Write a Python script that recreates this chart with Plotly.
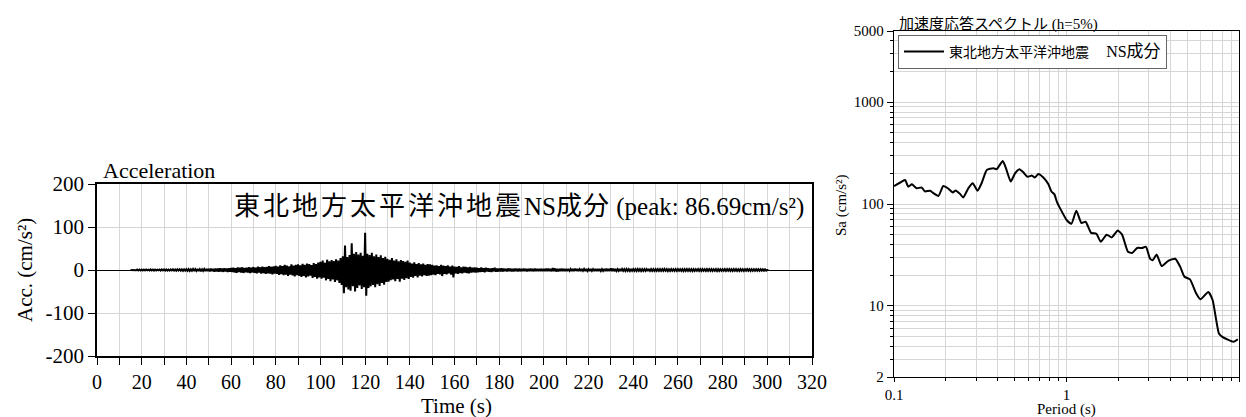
import math
import plotly.graph_objects as go

# ---------------- Acceleration time history (read per second: upper / lower swing) ----
T0 = 15  # first second of recorded motion
acc_up = [
    0, 0.5, 0.8, 1, 1,                                   # 15-19
    1, 1.2, 1, 0.8, 1.3, 1, 1.2, 0.9, 1.1, 1.4,           # 20-29
    1.2, 1.5, 1, 1.3, 1.6, 1.2, 1.5, 1.8, 1.4, 1.6,       # 30-39
    1.8, 2, 1.6, 2.2, 1.9, 2.4, 2, 1.7, 2.3, 2.6,         # 40-49
    2.8, 3.2, 2.6, 3.5, 3, 3.8, 3.2, 4, 3.4, 4.2,         # 50-59
    4.5, 5.2, 4.1, 5.8, 5, 6.2, 4.8, 5.5, 6.5, 5.3,       # 60-69
    6.8, 5.5, 7.5, 6.2, 8, 6.5, 7.2, 9, 7.5, 8.2,         # 70-79
    9.5, 8, 11, 9, 12, 10, 8.5, 13, 10.5, 12,             # 80-89
    13, 11, 14.5, 12, 15, 13.5, 11.5, 16, 14, 17,         # 90-99
    19, 22, 17, 24, 20, 23, 21, 25, 22, 28,               # 100-109
    32, 57, 30, 35, 62, 38, 42, 36, 40, 33,               # 110-119
    86.69, 38, 35, 40, 32, 36, 30, 34, 28, 31,            # 120-129
    26, 24, 28, 22, 25, 20, 23, 21, 19, 22,               # 130-139
    17, 15, 18, 14, 16, 13, 15, 12, 14, 13,               # 140-149
    12, 10, 11, 9, 12, 10, 9, 11, 8, 10,                  # 150-159
    8, 7, 9, 6, 8, 7, 6, 7, 5, 6,                         # 160-169
    5, 4, 6, 4, 5, 4, 3.5, 4, 5, 3,                       # 170-179
    3.5, 4, 3, 2.8, 3.5, 3, 2.5, 3.2, 2.8, 3,             # 180-189
    2.5, 3, 2.6, 2.2, 2.8, 2.4, 3, 2.5, 2.2, 2.7,         # 190-199
    2.4, 2.8, 3, 2.5, 4.5, 3.5, 2.6, 2.2, 2.8, 2.4,       # 200-209
    2.2, 2.6, 2.1, 2.4, 2.8, 2.3, 2, 2.5, 2.2, 2.4,       # 210-219
    2.1, 2.4, 2, 2.3, 2.6, 2.2, 2, 2.5, 3.2, 2.4,         # 220-229
    4, 3.2, 2.4, 2.1, 2.5, 2.2, 2, 2.3, 2.1, 2.4,         # 230-239
    2.2, 2, 2.3, 2.1, 1.9, 2.2, 2, 2.4, 2.1, 1.9,         # 240-249
    2, 2.2, 1.9, 2.1, 2.3, 2, 1.8, 2.1, 1.9, 2.2,         # 250-259
    2, 1.8, 2.1, 1.9, 2.2, 2, 1.8, 2.1, 1.9, 2,           # 260-269
    1.9, 2.1, 1.8, 2, 2.2, 1.9, 1.8, 2, 2.1, 1.9,         # 270-279
    1.8, 2, 1.9, 2.1, 1.8, 2, 1.9, 1.7, 2, 1.8,           # 280-289
    1.8, 2, 1.7, 1.9, 2, 1.8, 1.7, 1.9, 1.6, 1.5,         # 290-299
    0,                                                    # 300
]
acc_lo = [
    0, -0.5, -0.8, -1, -1,
    -1, -1.1, -0.9, -1.2, -1, -1.3, -1, -0.8, -1.2, -1.1,
    -1.3, -1.2, -1.5, -1.1, -1.4, -1.7, -1.3, -1.5, -1.8, -1.4,
    -1.9, -2.2, -1.8, -2.5, -2, -2.3, -2.7, -2, -2.4, -2.2,
    -3, -2.7, -3.6, -3.1, -3.9, -3.4, -4.2, -3.5, -4.5, -3.8,
    -4.8, -5.5, -6.2, -4.9, -5.8, -6.8, -5.2, -6, -7.2, -5.6,
    -6.5, -7.8, -6, -8.5, -7, -9, -7.5, -8.2, -10, -8.5,
    -9, -11.5, -9.5, -12, -10.5, -13.5, -11, -12.5, -15, -12,
    -13.5, -16, -14, -17.5, -15, -13, -18.5, -16, -20, -17,
    -20, -18, -24, -21, -26, -22, -28, -24, -30, -35,
    -54, -40, -45, -48, -38, -50, -42, -36, -44, -40,
    -60, -42, -38, -35, -40, -33, -37, -30, -34, -28,
    -27, -24, -22, -26, -21, -27, -20, -23, -19, -21,
    -16, -18, -14, -17, -13, -15, -12, -14, -13, -12,
    -11, -12, -9, -10, -14, -9, -10, -8, -11, -17,
    -8, -9, -7, -8, -6, -7, -8, -6, -5, -6,
    -5, -4.5, -4, -5, -3.5, -4, -4.5, -3, -4, -3.5,
    -3, -3.5, -2.8, -3.2, -2.5, -3, -3.3, -2.6, -3, -2.8,
    -2.6, -2.2, -3, -2.5, -2.3, -2.8, -2.4, -2.6, -2.2, -2.5,
    -2.2, -2.6, -2.4, -3, -2.5, -3.5, -2.8, -2.4, -2.2, -2.6,
    -2.4, -2.1, -2.6, -2.2, -2, -2.5, -2.3, -2, -2.4, -2.2,
    -2.3, -2, -2.4, -2.1, -2.5, -2.2, -2, -2.6, -2.3, -2.1,
    -2.5, -2.8, -2.2, -2, -2.4, -2.1, -2.3, -2, -2.2, -2,
    -2, -2.2, -1.9, -2.3, -2.1, -2, -2.4, -2.1, -1.9, -2.2,
    -2.1, -1.9, -2.2, -2, -1.8, -2.3, -2, -1.9, -2.1, -2,
    -1.9, -2.1, -2.3, -1.9, -2, -2.2, -2.4, -2, -1.8, -2.1,
    -2, -1.8, -2.1, -1.9, -2.2, -2, -1.8, -2.3, -2, -1.9,
    -1.9, -2.2, -1.8, -2, -2.1, -1.9, -2.3, -2, -1.8, -2,
    -1.9, -1.7, -2, -1.8, -1.7, -1.9, -1.8, -1.6, -1.7, -1.5,
    0,
]

# ---------------- Acceleration response spectrum (h=5%) ----------------
period = [0.100, 0.111, 0.116, 0.121, 0.127, 0.135, 0.145, 0.151, 0.162, 0.169,
          0.181, 0.193, 0.206, 0.219, 0.228, 0.241, 0.252, 0.270, 0.286, 0.305,
          0.322, 0.345, 0.377, 0.394, 0.427, 0.446, 0.475, 0.503, 0.533, 0.562,
          0.594, 0.630, 0.655, 0.687, 0.734, 0.784, 0.819, 0.850, 0.880, 0.920,
          1.00, 1.068, 1.14, 1.22, 1.29, 1.39, 1.49, 1.58, 1.71, 1.83,
          1.98, 2.10, 2.27, 2.40, 2.57, 2.74, 2.89, 3.05, 3.16, 3.33,
          3.56, 3.89, 4.27, 4.57, 4.83, 5.20, 5.64, 5.98, 6.64, 7.03,
          7.65, 8.0, 9.3, 9.84]
sa = [150, 166, 172, 148, 156, 143, 145, 133, 135, 128,
      120, 150, 142, 130, 136, 126, 116, 143, 160, 135,
      160, 216, 224, 220, 264, 224, 166, 200, 220, 205,
      185, 190, 182, 197, 182, 157, 132, 125, 105, 90,
      70, 64, 86, 65, 67, 52, 51, 42.6, 50, 47,
      55, 50, 34, 33, 37, 37, 38, 29, 28, 32,
      24.6, 27.7, 29, 24, 19.3, 18.2, 13.3, 11.6, 13.7, 11.4,
      5.35, 4.96, 4.43, 4.7]

x_major = list(range(0, 321, 20))
x_minor = list(range(10, 320, 20))
y_ticks = [-200, -100, 0, 100, 200]
y_labels = ["-200", "-100", "0", "100", "200"]

p_major = [0.1, 1, 10]
p_labels = ["0.1", "1", "10"]
p_minor = [0.2, 0.3, 0.4, 0.5, 0.6, 0.7, 0.8, 0.9, 2, 3, 4, 5, 6, 7, 8, 9]
s_major = [2, 10, 100, 1000, 5000]
s_labels = ["2", "10", "100", "1000", "5000"]
s_minor = [3, 4, 5, 6, 7, 8, 9, 20, 30, 40, 50, 60, 70, 80, 90,
           200, 300, 400, 500, 600, 700, 800, 900, 2000, 3000, 4000]

# interleave upper/lower swings into one trace
t_vals, a_vals = [], []
for i, (u, l) in enumerate(zip(acc_up, acc_lo)):
    t_vals += [T0 + i, T0 + i + 0.5]
    a_vals += [u, l]

W, H = 1246, 417
SERIF = "Liberation Serif"
CJK = "Noto Sans CJK JP"
GRID = "#d6d6d6"

def px(x):
    return x / W

def py(y):
    return (H - y) / H

fig = go.Figure()
fig.add_trace(go.Scatter(x=t_vals, y=a_vals, mode="lines",
                         line=dict(color="black", width=2),
                         showlegend=False, xaxis="x", yaxis="y",
                         hoverinfo="skip"))
fig.add_trace(go.Scatter(
    x=period, y=sa, mode="lines",
    line=dict(color="black", width=2, shape="spline", smoothing=0.5),
    name='東北地方太平洋沖地震\u3000 '
         '<span style="font-family:Liberation Serif;font-size:16px">NS</span>'
         '<span style="font-size:17px">成分</span>',
    xaxis="x2", yaxis="y2"))

axis_common = dict(showline=True, mirror=True, linecolor="black",
                   ticks="outside", tickcolor="black", zeroline=False,
                   showgrid=True, gridcolor=GRID, gridwidth=1,
                   automargin=False)

fig.update_layout(
    width=W, height=H,
    margin=dict(l=0, r=0, t=0, b=0, pad=0, autoexpand=False),
    paper_bgcolor="white", plot_bgcolor="white",
    showlegend=True,
    legend=dict(x=px(898), y=py(35), xanchor="left", yanchor="top",
                bgcolor="white", bordercolor="#666666", borderwidth=1,
                font=dict(family=CJK, size=14, color="black"),
                itemwidth=40, tracegroupgap=0),
    xaxis=dict(domain=[px(97), px(812)], range=[0, 320], anchor="y",
               tickvals=x_major, ticktext=[str(v) for v in x_major],
               ticklen=7, linewidth=1.6,
               tickfont=dict(family=SERIF, size=20, color="black"),
               minor=dict(tickvals=x_minor, ticks="outside", ticklen=7,
                          tickcolor="black", showgrid=True, gridcolor=GRID),
               **axis_common),
    yaxis=dict(domain=[py(356), py(184)], range=[-200, 200], anchor="x",
               tickvals=y_ticks, ticktext=y_labels, ticklen=7, linewidth=1.6,
               tickfont=dict(family=SERIF, size=21, color="black"),
               **{**axis_common, "zeroline": True},
               zerolinecolor="black", zerolinewidth=1.2),
    xaxis2=dict(domain=[px(894), px(1239)], type="log", range=[-1, 1],
                anchor="y2", tickvals=p_major, ticktext=p_labels, ticklen=4,
                linewidth=1.4,
                tickfont=dict(family=SERIF, size=15, color="black"),
                minor=dict(tickvals=p_minor, ticks="outside", ticklen=3,
                           tickcolor="black", showgrid=True, gridcolor=GRID),
                **axis_common),
    yaxis2=dict(domain=[py(377), py(31)], type="log",
                range=[math.log10(2), math.log10(5000)], anchor="x2",
                tickvals=s_major, ticktext=s_labels, ticklen=6, linewidth=1.4,
                tickfont=dict(family=SERIF, size=15, color="black"),
                minor=dict(tickvals=s_minor, ticks="outside", ticklen=3,
                           tickcolor="black", showgrid=True, gridcolor=GRID),
                **axis_common),
)

ann = [
    dict(text="Acceleration", x=px(101), y=py(170), xanchor="left",
         yanchor="middle", font=dict(family=SERIF, size=22)),
    dict(text="Acc. (cm/s²)", x=px(25), y=py(270), xanchor="center",
         yanchor="middle", textangle=-90, font=dict(family=SERIF, size=21)),
    dict(text="Time (s)", x=px(456), y=py(406), xanchor="center",
         yanchor="middle", font=dict(family=SERIF, size=21)),
    dict(text='<span style="font-family:Noto Sans CJK JP;font-size:26px;letter-spacing:3px">東北地方太平洋沖地震</span>NS'
              '<span style="font-family:Noto Sans CJK JP;font-size:26px;letter-spacing:1px">成分</span> (peak: 86.69cm/s²)',
         x=px(806), y=py(204), xanchor="right", yanchor="middle",
         font=dict(family=SERIF, size=25)),
    dict(text='<span style="font-family:Noto Sans CJK JP">加速度応答スペクトル</span>'
              ' <span style="font-size:15px">(h=5%)</span>',
         x=px(897), y=py(22), xanchor="left", yanchor="middle",
         font=dict(family=SERIF, size=15)),
    dict(text="Sa (cm/s²)", x=px(841), y=py(205), xanchor="center",
         yanchor="middle", textangle=-90, font=dict(family=SERIF, size=15)),
    dict(text="Period (s)", x=px(1066), y=py(409), xanchor="center",
         yanchor="middle", font=dict(family=SERIF, size=15)),
]
for a in ann:
    a.update(xref="paper", yref="paper", showarrow=False)
    a["font"]["color"] = "black"
fig.update_layout(annotations=ann)

fig.write_html(
    "out.html",
    config={"displayModeBar": False},
    post_script="document.body.style.margin='0';document.body.style.overflow='hidden';",
)
